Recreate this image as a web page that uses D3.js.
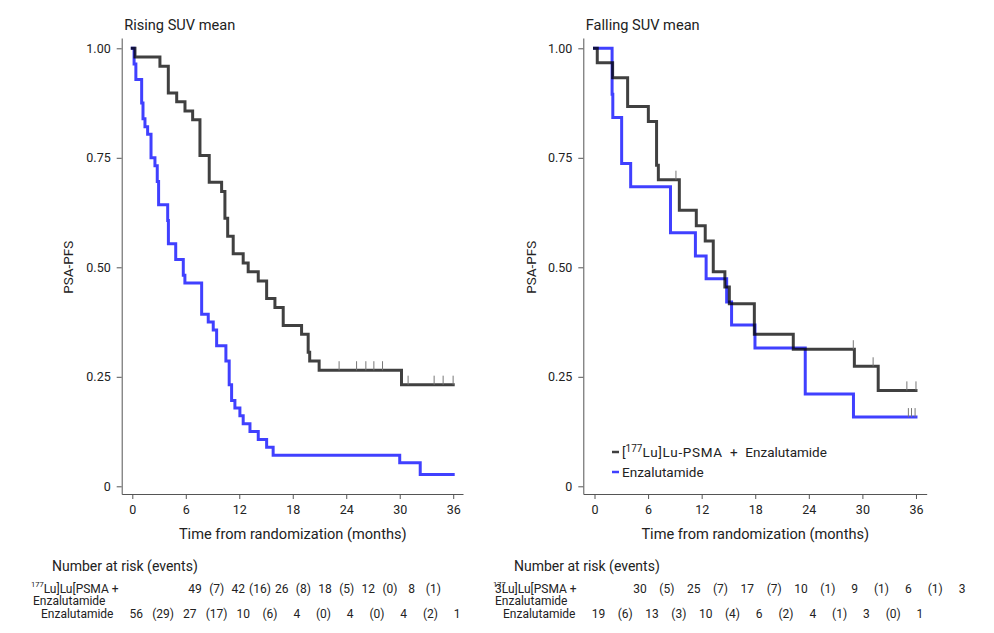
<!DOCTYPE html>
<html><head><meta charset="utf-8">
<script src="https://cdn.jsdelivr.net/npm/d3@7"></script>
<style>
body{margin:0;background:#fff;}
svg{font-family:Roboto,"Noto Sans",sans-serif;}
</style></head>
<body>
<svg id="chart" width="994" height="633"></svg>
<script>
// ---------- data ----------
const panelTitles = ["Rising SUV mean", "Falling SUV mean"];
const seriesNames = ["[177Lu]Lu-PSMA + Enzalutamide", "Enzalutamide"];
const yTicks = [0, 0.25, 0.5, 0.75, 1];
const xTicks = [0, 6, 12, 18, 24, 30, 36];

// Rising SUV mean – Lu-PSMA + Enzalutamide
const risingLuTime = [0, 0.30, 3.10, 4.04, 4.98, 5.91, 6.77, 7.59, 8.63, 10.02, 10.39, 10.70, 11.32, 12.44, 13.00, 14.13, 15.07, 16.00, 16.93, 18.99, 19.73, 19.90, 20.96, 30.20];
const risingLuSurv = [1, 0.980, 0.959, 0.898, 0.878, 0.857, 0.837, 0.755, 0.694, 0.673, 0.612, 0.571, 0.531, 0.510, 0.490, 0.469, 0.429, 0.408, 0.367, 0.347, 0.306, 0.286, 0.265, 0.232];
const risingLuCensor = [23.2, 25.16, 26.2, 27.1, 28.07, 30.94, 33.86, 34.87, 35.99];
// Rising SUV mean – Enzalutamide
const risingEnzTime = [0, 0.20, 0.40, 1.05, 1.20, 1.42, 1.72, 2.10, 2.54, 2.80, 2.95, 3.97, 4.05, 4.87, 5.72, 5.90, 7.78, 8.52, 9.08, 9.46, 10.50, 10.87, 11.14, 11.51, 12.07, 12.44, 13.20, 14.13, 15.07, 15.80, 30.00, 32.30];
const risingEnzSurv = [1, 0.964, 0.929, 0.875, 0.839, 0.821, 0.804, 0.750, 0.732, 0.696, 0.643, 0.607, 0.554, 0.518, 0.482, 0.464, 0.393, 0.375, 0.357, 0.321, 0.286, 0.232, 0.196, 0.179, 0.161, 0.143, 0.125, 0.107, 0.089, 0.071, 0.054, 0.027];
const risingEnzCensor = [];

// Falling SUV mean – Lu-PSMA + Enzalutamide
const fallingLuTime = [0, 0.31, 2.03, 3.71, 6.03, 6.95, 7.15, 9.50, 11.40, 12.40, 13.30, 14.60, 15.10, 17.90, 22.26, 29.10, 31.77];
const fallingLuSurv = [1, 0.967, 0.933, 0.867, 0.833, 0.733, 0.700, 0.630, 0.595, 0.560, 0.490, 0.455, 0.417, 0.347, 0.313, 0.274, 0.219];
const fallingLuCensor = [9.12, 28.98, 31.2, 34.98, 36.0];
// Falling SUV mean – Enzalutamide
const fallingEnzTime = [0, 1.97, 2.05, 3.04, 4.05, 8.51, 11.30, 12.50, 14.80, 15.35, 17.97, 23.60, 29.00];
const fallingEnzSurv = [1, 0.895, 0.842, 0.737, 0.684, 0.579, 0.526, 0.474, 0.421, 0.368, 0.316, 0.211, 0.158];
const fallingEnzCensor = [35.15, 35.5, 35.9];

// Number at risk (events)
const risingLuRisk = ["49", "42", "26", "18", "12", "8"];
const risingLuEvents = ["(7)", "(16)", "(8)", "(5)", "(0)", "(1)"];
const risingEnzRisk = ["56", "27", "10", "4", "4", "4", "1"];
const risingEnzEvents = ["(29)", "(17)", "(6)", "(0)", "(0)", "(2)"];
const fallingLuRisk = ["30", "25", "17", "10", "9", "6", "3"];
const fallingLuEvents = ["(5)", "(7)", "(7)", "(1)", "(1)", "(1)"];
const fallingEnzRisk = ["19", "13", "10", "6", "4", "3", "1"];
const fallingEnzEvents = ["(6)", "(3)", "(4)", "(2)", "(1)", "(0)"];

// ---------- drawing ----------
const svg = d3.select("#chart");
const colLu = "#000", colEnz = "#0000ff", lineOpacity = 0.75;
const axisCol = "#555", textCol = "#222";

const panels = [
  {title: panelTitles[0], x0: 121.7, x1: 463, zeroX: 132.3, pxPerMonth: 8.914,
   lu: {t: risingLuTime, s: risingLuSurv, c: risingLuCensor},
   enz: {t: risingEnzTime, s: risingEnzSurv, c: risingEnzCensor},
   ylabX: 68, legend: false,
   risk: {luRisk: risingLuRisk, luEv: risingLuEvents, enzRisk: risingEnzRisk, enzEv: risingEnzEvents,
          luRange: [195, 455], enzShift: 4, labelX: 31, prefix: ""}},
  {title: panelTitles[1], x0: 583.3, x1: 926.7, zeroX: 594.5, pxPerMonth: 8.93,
   lu: {t: fallingLuTime, s: fallingLuSurv, c: fallingLuCensor},
   enz: {t: fallingEnzTime, s: fallingEnzSurv, c: fallingEnzCensor},
   ylabX: 531, legend: true,
   risk: {luRisk: fallingLuRisk, luEv: fallingLuEvents, enzRisk: fallingEnzRisk, enzEv: fallingEnzEvents,
          luRange: [640, 962], enzShift: 4, labelX: 493, prefix: "3"}}
];

const yTop = 38, yBot = 494;
const y = d3.scaleLinear().domain([(486.3 - yBot) / 438, 1 + (48.3 - yTop) / 438]).range([yBot, yTop]);

function stepLookup(ts, ss, t) {
  let v = ss[0];
  for (let i = 0; i < ts.length; i++) if (ts[i] <= t) v = ss[i];
  return v;
}

panels.forEach(p => {
  const x = d3.scaleLinear()
    .domain([(p.x0 - p.zeroX) / p.pxPerMonth, (p.x1 - p.zeroX) / p.pxPerMonth])
    .range([p.x0, p.x1]);
  const g = svg.append("g");

  // axes
  const ax = g.append("g").attr("transform", `translate(0,${yBot})`)
    .call(d3.axisBottom(x).tickValues(xTicks).tickSize(5).tickSizeOuter(0).tickPadding(6));
  const ay = g.append("g").attr("transform", `translate(${p.x0},0)`)
    .call(d3.axisLeft(y).tickValues(yTicks).tickSize(5).tickSizeOuter(0).tickPadding(6)
      .tickFormat(d => d === 0 ? "0" : d3.format(".2f")(d)));
  [ax, ay].forEach(a => {
    a.selectAll("path,line").attr("stroke", axisCol).attr("stroke-width", 1);
    a.selectAll("text").attr("fill", textCol).style("font-size", "12.5px").style("font-family", "Roboto, sans-serif");
  });

  // titles
  g.append("text").attr("x", p.x0 + 2.5).attr("y", 30).text(p.title)
    .attr("fill", textCol).style("font-size", "14.6px");
  g.append("text").attr("x", (x(0) + x(36)) / 2).attr("y", 539).attr("text-anchor", "middle")
    .text("Time from randomization (months)").attr("fill", textCol).style("font-size", "14.6px");
  g.append("text").attr("transform", `translate(${p.ylabX},${y(0.5)}) rotate(-90)`)
    .attr("text-anchor", "middle").attr("dy", "0.35em").text("PSA-PFS")
    .attr("fill", textCol).style("font-size", "13.5px");

  // curves
  const line = d3.line().curve(d3.curveStepAfter).x(d => x(d[0])).y(d => y(d[1]));
  function drawCurve(c, col) {
    const pts = c.t.map((t, i) => [t, c.s[i]]);
    pts.push([36, c.s[c.s.length - 1]]);
    g.append("path").datum(pts).attr("d", line).attr("fill", "none")
      .attr("stroke", col).attr("stroke-opacity", lineOpacity).attr("stroke-width", 3)
      .attr("stroke-linejoin", "miter").attr("stroke-linecap", "square");
    c.c.forEach(ct => {
      const yy = y(stepLookup(c.t, c.s, ct));
      g.append("line").attr("x1", x(ct)).attr("x2", x(ct)).attr("y1", yy - 9).attr("y2", yy)
        .attr("stroke", "#777").attr("stroke-width", 1);
    });
  }
  drawCurve(p.enz, colEnz);
  drawCurve(p.lu, colLu);

  // legend
  if (p.legend) {
    [[seriesNames[0], colLu, 452], [seriesNames[1], colEnz, 472]].forEach(([name, col, ly], i) => {
      g.append("line").attr("x1", 612).attr("x2", 619).attr("y1", ly).attr("y2", ly)
        .attr("stroke", col).attr("stroke-opacity", lineOpacity).attr("stroke-width", 2.5);
      const t = g.append("text").attr("x", 622).attr("y", ly + 4.5).attr("fill", textCol).style("font-size", "13.5px");
      if (i === 0) {
        t.append("tspan").text("[");
        t.append("tspan").text("177").style("font-size", "10px").attr("dy", -5);
        t.append("tspan").text("Lu]Lu-PSMA + ").attr("dy", 5).style("letter-spacing", "0.7px").style("word-spacing", "3px");
        t.append("tspan").text("Enzalutamide");
      } else t.text(name);
    });
  }

  // risk table
  const r = p.risk;
  g.append("text").attr("x", r.labelX + 21).attr("y", 571).text("Number at risk (events)")
    .attr("fill", textCol).style("font-size", "14px");
  const lab = g.append("text").attr("x", r.labelX).attr("y", 593).attr("fill", textCol).style("font-size", "12px");
  lab.append("tspan").text("177").style("font-size", "7.5px").attr("dy", -6);
  if (r.prefix) lab.append("tspan").text(r.prefix).attr("x", r.labelX + 2).attr("dy", 6);
  lab.append("tspan").text("Lu]Lu[PSMA +").attr("dy", r.prefix ? 0 : 6);
  g.append("text").attr("x", r.labelX + 2).attr("y", 605).text("Enzalutamide")
    .attr("fill", textCol).style("font-size", "12px");
  g.append("text").attr("x", r.labelX + 10).attr("y", 618).text("Enzalutamide")
    .attr("fill", textCol).style("font-size", "12px");

  const xr1 = d3.scaleLinear().domain([0, 36]).range(r.luRange);
  r.luRisk.forEach((v, i) => g.append("text").attr("x", xr1(i * 6)).attr("y", 593).attr("text-anchor", "middle")
    .text(v).attr("fill", textCol).style("font-size", "12px"));
  r.luEv.forEach((v, i) => g.append("text").attr("x", xr1(i * 6 + 3)).attr("y", 593).attr("text-anchor", "middle")
    .text(v).attr("fill", textCol).style("font-size", "12px"));
  r.enzRisk.forEach((v, i) => g.append("text").attr("x", x(i * 6) + r.enzShift).attr("y", 618).attr("text-anchor", "middle")
    .text(v).attr("fill", textCol).style("font-size", "12px"));
  r.enzEv.forEach((v, i) => g.append("text").attr("x", x(i * 6 + 3) + r.enzShift).attr("y", 618).attr("text-anchor", "middle")
    .text(v).attr("fill", textCol).style("font-size", "12px"));
});
</script>
</body></html>
